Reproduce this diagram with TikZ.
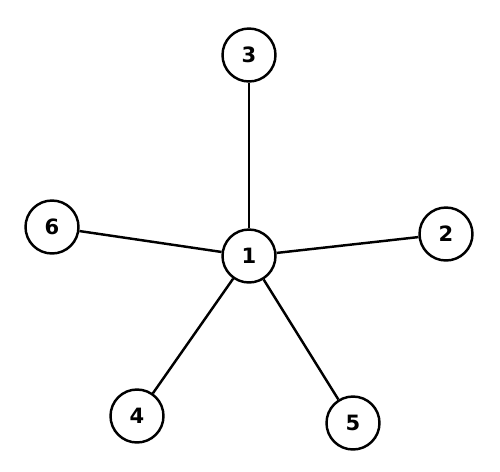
\documentclass[tikz,border=0pt]{standalone}
\usepackage{fontspec}
\setsansfont{DejaVu Sans}
\begin{document}
\begin{tikzpicture}[x=0.02cm, y=-0.02cm]
    \tikzstyle{vertex} = [circle, draw=black, line width=1.4pt,
      minimum size=1.06cm, inner sep=0pt, font=\sffamily\bfseries\large]
    \tikzstyle{edge} = [line width=1.4pt]

    \useasboundingbox (0,0) rectangle (500,471);

    \node (v1) [vertex] at (249,256) {1};
    \node (v2) [vertex] at (446,234) {2};
    \node (v3) [vertex] at (249,55) {3};
    \node (v4) [vertex] at (137,416) {4};
    \node (v5) [vertex] at (353,423) {5};
    \node (v6) [vertex] at (52,227) {6};

    \draw [edge] (v1) -- (v2);
    \draw [edge] (v1) -- (v3);
    \draw [edge] (v1) -- (v4);
    \draw [edge] (v1) -- (v5);
    \draw [edge] (v1) -- (v6);
  \end{tikzpicture}
\end{document}
